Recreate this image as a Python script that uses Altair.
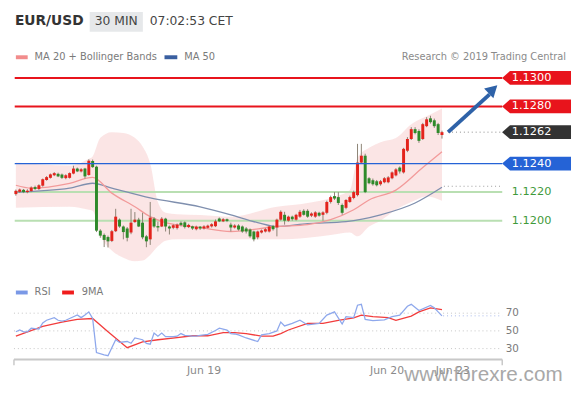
import altair as alt
import pandas as pd

# ---------------- candles (30 min EUR/USD) ----------------
opens = [1.12186, 1.12202, 1.12216, 1.12200, 1.12207, 1.12235, 1.12222, 1.12245, 1.12285, 1.12300,
         1.12318, 1.12328, 1.12323, 1.12298, 1.12300, 1.12330, 1.12365, 1.12345, 1.12365, 1.12320,
         1.12418, 1.12378, 1.11930, 1.11900, 1.11885, 1.11858, 1.11926, 1.12007, 1.11959, 1.11945,
         1.11917, 1.11990, 1.12007, 1.11986, 1.11890, 1.11869, 1.12014, 1.11962, 1.11959, 1.12014,
         1.11959, 1.11950, 1.11948, 1.11985, 1.11988, 1.11955, 1.11960, 1.11940, 1.11958, 1.11945,
         1.11950, 1.11960, 1.11961, 1.12015, 1.11995, 1.12010, 1.11972, 1.11952, 1.11966, 1.11959,
         1.11945, 1.11938, 1.11924, 1.11883, 1.11917, 1.11924, 1.11924, 1.11962, 1.11952, 1.12007,
         1.12041, 1.12000, 1.12028, 1.12007, 1.12028, 1.12069, 1.12069, 1.12035, 1.12028, 1.12055,
         1.12041, 1.12055, 1.12131, 1.12172, 1.12165, 1.12110, 1.12090, 1.12131, 1.12159, 1.12179,
         1.12407, 1.12455, 1.12297, 1.12283, 1.12276, 1.12255, 1.12269, 1.12269, 1.12297, 1.12317,
         1.12372, 1.12338, 1.12490, 1.12572, 1.12641, 1.12628, 1.12572, 1.12662, 1.12717, 1.12703,
         1.12676, 1.12600]
highs = [1.12218, 1.12225, 1.12222, 1.12220, 1.12240, 1.12245, 1.12255, 1.12295, 1.12312, 1.12330,
         1.12340, 1.12336, 1.12330, 1.12325, 1.12338, 1.12385, 1.12372, 1.12368, 1.12370, 1.12430,
         1.12428, 1.12385, 1.11940, 1.11910, 1.11895, 1.11935, 1.12083, 1.12015, 1.11966, 1.11955,
         1.12083, 1.12060, 1.12020, 1.12055, 1.11900, 1.12131, 1.12025, 1.11993, 1.12025, 1.12020,
         1.11966, 1.11975, 1.11980, 1.11995, 1.11995, 1.11978, 1.11965, 1.11965, 1.11962, 1.11968,
         1.11972, 1.11982, 1.12008, 1.12022, 1.12018, 1.12015, 1.11986, 1.11975, 1.11975, 1.11966,
         1.11955, 1.11945, 1.11930, 1.11930, 1.11938, 1.11948, 1.11966, 1.11970, 1.12014, 1.12072,
         1.12062, 1.12035, 1.12035, 1.12048, 1.12075, 1.12080, 1.12080, 1.12058, 1.12066, 1.12062,
         1.12066, 1.12140, 1.12175, 1.12200, 1.12200, 1.12120, 1.12150, 1.12175, 1.12210, 1.12538,
         1.12538, 1.12469, 1.12305, 1.12295, 1.12285, 1.12285, 1.12305, 1.12312, 1.12345, 1.12368,
         1.12380, 1.12510, 1.12585, 1.12655, 1.12655, 1.12640, 1.12685, 1.12725, 1.12735, 1.12715,
         1.12685, 1.12630]
lows = [1.12175, 1.12195, 1.12193, 1.12192, 1.12200, 1.12215, 1.12215, 1.12238, 1.12280, 1.12295,
        1.12312, 1.12305, 1.12292, 1.12290, 1.12295, 1.12325, 1.12340, 1.12338, 1.12295, 1.12315,
        1.12370, 1.11920, 1.11880, 1.11815, 1.11812, 1.11850, 1.11920, 1.11950, 1.11869, 1.11855,
        1.11905, 1.11985, 1.11955, 1.11870, 1.11814, 1.11830, 1.11950, 1.11924, 1.11955, 1.11924,
        1.11903, 1.11940, 1.11938, 1.11960, 1.11945, 1.11948, 1.11935, 1.11932, 1.11935, 1.11938,
        1.11945, 1.11952, 1.11955, 1.11990, 1.11990, 1.11990, 1.11924, 1.11945, 1.11930, 1.11915,
        1.11910, 1.11880, 1.11855, 1.11869, 1.11910, 1.11917, 1.11917, 1.11930, 1.11890, 1.12000,
        1.11972, 1.11993, 1.12000, 1.12000, 1.12020, 1.12035, 1.12020, 1.12025, 1.12020, 1.12028,
        1.12000, 1.12045, 1.12120, 1.12145, 1.12110, 1.12041, 1.12080, 1.12125, 1.12150, 1.12170,
        1.12400, 1.12193, 1.12255, 1.12245, 1.12240, 1.12245, 1.12262, 1.12262, 1.12290, 1.12310,
        1.12330, 1.12330, 1.12480, 1.12565, 1.12605, 1.12545, 1.12565, 1.12655, 1.12680, 1.12650,
        1.12600, 1.12575]
closes = [1.12209, 1.12218, 1.12200, 1.12210, 1.12232, 1.12222, 1.12248, 1.12290, 1.12305, 1.12324,
          1.12333, 1.12310, 1.12300, 1.12318, 1.12333, 1.12365, 1.12345, 1.12360, 1.12310, 1.12420,
          1.12375, 1.11930, 1.11895, 1.11865, 1.11855, 1.11926, 1.12028, 1.11959, 1.11920, 1.11880,
          1.11986, 1.12007, 1.11959, 1.11883, 1.11855, 1.12021, 1.11959, 1.11952, 1.12014, 1.11959,
          1.11945, 1.11968, 1.11972, 1.11970, 1.11955, 1.11970, 1.11945, 1.11958, 1.11945, 1.11960,
          1.11965, 1.11975, 1.11995, 1.11995, 1.12010, 1.11998, 1.11952, 1.11966, 1.11938, 1.11924,
          1.11924, 1.11890, 1.11869, 1.11924, 1.11931, 1.11940, 1.11959, 1.11940, 1.12007, 1.12062,
          1.12000, 1.12028, 1.12010, 1.12041, 1.12062, 1.12041, 1.12028, 1.12050, 1.12058, 1.12035,
          1.12058, 1.12131, 1.12165, 1.12155, 1.12124, 1.12055, 1.12145, 1.12165, 1.12200, 1.12407,
          1.12455, 1.12200, 1.12262, 1.12255, 1.12248, 1.12276, 1.12297, 1.12303, 1.12338, 1.12359,
          1.12345, 1.12503, 1.12572, 1.12641, 1.12614, 1.12559, 1.12676, 1.12710, 1.12690, 1.12662,
          1.12614, 1.12620]

# ---------------- Bollinger bands / moving averages ----------------
band_idx = [0, 14, 19, 20, 22, 25, 28, 31, 33, 35, 37, 39, 42, 48, 56, 68, 76, 82, 87, 89, 92, 95, 99, 103, 107, 111]
band_upper = [1.12407, 1.12386, 1.12434, 1.12450, 1.12580, 1.12620, 1.12615, 1.12580, 1.12520, 1.12400,
              1.12130, 1.12055, 1.12045, 1.12040, 1.12028, 1.12097, 1.12124, 1.12159, 1.12214, 1.12440,
              1.12510, 1.12550, 1.12579, 1.12676, 1.12731, 1.12786]
band_lower = [1.12090, 1.12097, 1.12076, 1.12070, 1.11900, 1.11790, 1.11740, 1.11715, 1.11720, 1.11760,
              1.11820, 1.11860, 1.11870, 1.11870, 1.11869, 1.11869, 1.11880, 1.11900, 1.11917, 1.11890,
              1.11959, 1.12000, 1.12076, 1.12130, 1.12170, 1.12140]
ma20_idx = [0, 4, 14, 20, 25, 31, 35, 39, 48, 56, 68, 76, 82, 88, 92, 99, 106, 111]
ma20_vals = [1.12248, 1.12228, 1.12262, 1.12303, 1.12193, 1.12097, 1.12028, 1.11986, 1.11952, 1.11924,
             1.11959, 1.11972, 1.12007, 1.12076, 1.12145, 1.12214, 1.12372, 1.12483]
ma50_idx = [0, 14, 20, 25, 35, 48, 56, 63, 68, 76, 86, 95, 104, 111]
ma50_vals = [1.12200, 1.12228, 1.12262, 1.12228, 1.12159, 1.12097, 1.12041, 1.11986, 1.11959, 1.11979,
             1.11993, 1.12041, 1.12124, 1.12234]

# ---------------- RSI ----------------
rsi_idx = [0, 1, 2, 3, 4, 6, 7, 8, 10, 11, 12, 13, 15, 16, 17, 18, 19, 20, 21, 23, 24, 26, 27, 29, 30, 31,
           33, 34, 35, 36, 37, 38, 39, 41, 42, 43, 44, 46, 47, 48, 50, 52, 53, 55, 56, 57, 58, 60, 63, 64,
           66, 68, 69, 70, 72, 74, 76, 79, 81, 83, 85, 86, 88, 89, 90, 91, 93, 96, 98, 100, 102, 103, 105,
           108, 109, 110, 111]
rsi_vals = [49, 51, 49, 49, 53, 52, 59, 62, 65, 62, 61, 62, 66, 68, 65, 68, 71.5, 64, 25.5, 23, 22, 40, 37,
            38, 36, 42, 40, 36, 35, 47.5, 44, 47.5, 43.5, 43.5, 44, 47, 45, 44, 44, 45, 46, 50.5, 53, 51,
            47, 46.5, 45.5, 42, 38, 45.5, 47, 50, 60, 55.6, 58.5, 62, 56.7, 58.5, 67.8, 71.5, 57.8, 66, 65,
            79, 80, 63, 61.7, 62.5, 66, 67.8, 77.8, 80, 73, 78.7, 76, 71.5, 67]
rsi_ma_idx = [0, 7, 12, 16, 20, 24, 29, 33, 37, 42, 46, 50, 54, 57, 60, 64, 67, 69, 71, 76, 80, 84, 88, 90,
              93, 97, 99, 103, 105, 108, 111]
rsi_ma_vals = [44, 55, 60, 63, 64, 49, 31, 37.5, 40, 42.5, 44.5, 44.5, 48, 48, 47, 44, 44, 47, 51, 58.5,
               58.5, 62, 64.8, 67.8, 66, 65, 62, 66.7, 71.5, 75.9, 74]

# ---------------- levels / labels ----------------
level_values = [1.1300, 1.1280, 1.1240, 1.1220, 1.1200]
level_kinds = ["res", "res", "piv", "sup", "sup"]
label_values = [1.1300, 1.1280, 1.1262, 1.1240, 1.1220, 1.1200]
label_kinds = ["res", "res", "last", "piv", "sup", "sup"]
last_price = 1.1262
last_ma50 = 1.12241
last_rsi = 67
rsi_levels = [70, 50, 30]
tick_pos = [49, 96.7, 113.8]
tick_labels = ["Jun 19", "Jun 20", "Jun 23"]

# ---------------- geometry / style ----------------
W = 564
H_HEAD, H_PRICE, H_RSI = 54, 205, 90
X0, X1 = -0.256, 144.36
P_LO, P_HI = 1.116621, 1.130759
R_LO, R_HI = 17.78, 117.78
LINE_X0, LINE_X1 = -0.3, 126.7
BOX_X, TEXT_X = 135.64, 129.2
ARROW_X = [112.6, 123.4]
ARROW_Y = [1.12620, 1.12885]
HEAD_X, HEAD_Y = 124.3, 1.12920

UP, DOWN, WICK = "#e3231c", "#2e8a2a", "#8c8374"
RED, BLUE, GREEN_LINE, GREEN_TXT, DARK = "#e8141c", "#2563d6", "#b9dfb2", "#3f9a3a", "#333333"
ARROW = "#2e62a8"
GRAY = "#7a7a7a"

xs = alt.Scale(domain=[X0, X1], nice=False, zero=False, padding=0)
ys = alt.Scale(domain=[P_LO, P_HI], nice=False, zero=False, padding=0)
rs = alt.Scale(domain=[R_LO, R_HI], nice=False, zero=False, padding=0)


def XF(f):
    return alt.X(f, type="quantitative", scale=xs, axis=None)


def XD(d):
    return alt.X(datum=d, type="quantitative", scale=xs, axis=None)


def YF(f, s=ys):
    return alt.Y(f, type="quantitative", scale=s, axis=None)


def YD(d, s=ys):
    return alt.Y(datum=d, type="quantitative", scale=s, axis=None)


one = pd.DataFrame({"a": [0]})

# ---------------- header ----------------
hdr = alt.Chart(one)
header = alt.layer(
    hdr.mark_rect(color="#e6e8ea").encode(x=alt.value(76), x2=alt.value(130), y=alt.value(0), y2=alt.value(20)),
    hdr.mark_text(text="EUR/USD", fontWeight="bold", fontSize=14, align="left", baseline="middle", color="#333")
       .encode(x=alt.value(0), y=alt.value(9)),
    hdr.mark_text(text="30 MIN", fontSize=12.5, align="center", baseline="middle", color="#444")
       .encode(x=alt.value(103), y=alt.value(9)),
    hdr.mark_text(text="07:02:53 CET", fontSize=12.5, align="left", baseline="middle", color="#444")
       .encode(x=alt.value(137), y=alt.value(9)),
    hdr.mark_rect(color="#f28c8c").encode(x=alt.value(1), x2=alt.value(13), y=alt.value(44), y2=alt.value(48)),
    hdr.mark_text(text="MA 20 + Bollinger Bands", fontSize=10, align="left", baseline="middle", color=GRAY)
       .encode(x=alt.value(20), y=alt.value(46)),
    hdr.mark_rect(color="#3a5fa0").encode(x=alt.value(152), x2=alt.value(165), y=alt.value(44), y2=alt.value(48)),
    hdr.mark_text(text="MA 50", fontSize=10, align="left", baseline="middle", color=GRAY)
       .encode(x=alt.value(172), y=alt.value(46)),
    hdr.mark_text(text="Research © 2019 Trading Central", fontSize=10, align="right", baseline="middle", color="#8a8a8a")
       .encode(x=alt.value(560), y=alt.value(46)),
).properties(width=W, height=H_HEAD)

# ---------------- price panel ----------------
cdf = pd.DataFrame({"i": list(range(len(opens))), "o": opens, "h": highs, "l": lows, "c": closes})
bdf = pd.DataFrame({"i": band_idx, "u": band_upper, "lo": band_lower})
m20 = pd.DataFrame({"i": ma20_idx, "v": ma20_vals})
m50 = pd.DataFrame({"i": ma50_idx, "v": ma50_vals})
ldf = pd.DataFrame({"v": level_values, "k": level_kinds})
labdf = pd.DataFrame({"v": label_values, "k": label_kinds})
arr = pd.DataFrame({"x": ARROW_X, "y": ARROW_Y})

band = alt.Chart(bdf).mark_area(color="#f6c2c2", opacity=0.42, interpolate="monotone").encode(
    x=XF("i"), y=YF("u"), y2="lo")
ma50_line = alt.Chart(m50).mark_line(color="#7f8fae", strokeWidth=1.3, interpolate="monotone").encode(
    x=XF("i"), y=YF("v"))
ma20_line = alt.Chart(m20).mark_line(color="#f29a9a", strokeWidth=1.3, interpolate="monotone").encode(
    x=XF("i"), y=YF("v"))


def level_layer(kind, color, width):
    return alt.Chart(ldf).transform_filter(f"datum.k == '{kind}'").mark_rule(
        color=color, strokeWidth=width).encode(x=XD(LINE_X0), x2=alt.datum(LINE_X1), y=YF("v"))


res_lines = level_layer("res", RED, 2)
piv_line = level_layer("piv", BLUE, 1.2)
sup_lines = level_layer("sup", GREEN_LINE, 2)

wicks = alt.Chart(cdf).mark_rule(color=WICK, strokeWidth=1).encode(x=XF("i"), y=YF("l"), y2="h")
bodies = alt.Chart(cdf).mark_bar(size=3).encode(
    x=XF("i"), y=YF("o"), y2="c",
    color=alt.condition("datum.c >= datum.o", alt.value(UP), alt.value(DOWN)))

last_dot = alt.Chart(one).mark_rule(color="#8a8a8a", strokeDash=[1, 3], strokeWidth=1).encode(
    x=XD(ARROW_X[0]), x2=alt.datum(LINE_X1), y=YD(last_price))
ma50_dot = alt.Chart(one).mark_rule(color="#9a9a9a", strokeDash=[1, 3], strokeWidth=1).encode(
    x=XD(111.5), x2=alt.datum(LINE_X1), y=YD(last_ma50))

arrow_line = alt.Chart(arr).mark_line(color=ARROW, strokeWidth=4).encode(x=XF("x"), y=YF("y"))
arrow_head = alt.Chart(one).mark_point(shape="triangle-up", angle=47, filled=True, size=190, opacity=1,
                                       color=ARROW).encode(x=XD(HEAD_X), y=YD(HEAD_Y))

BOX = "M -1 0 L -0.77 -0.2 L 1 -0.2 L 1 0.2 L -0.77 0.2 Z"
boxes = alt.Chart(labdf).transform_filter("datum.k != 'sup'").mark_point(
    shape=BOX, filled=True, size=4900, opacity=1, strokeWidth=0).encode(
    x=XD(BOX_X), y=YF("v"),
    color=alt.Color("k:N", scale=alt.Scale(domain=["res", "last", "piv"], range=[RED, DARK, BLUE]), legend=None))
label_text = alt.Chart(labdf).mark_text(align="left", baseline="middle", fontSize=11.5).encode(
    x=XD(TEXT_X), y=YF("v"), text=alt.Text("v:Q", format=".4f"),
    color=alt.condition("datum.k == 'sup'", alt.value(GREEN_TXT), alt.value("white")))

price = alt.layer(band, sup_lines, ma50_line, ma20_line, wicks, bodies, res_lines, piv_line,
                  last_dot, ma50_dot, arrow_line, arrow_head, boxes, label_text).properties(
    width=W, height=H_PRICE)

# ---------------- RSI panel ----------------
rsi_df = pd.DataFrame({"i": rsi_idx, "v": rsi_vals})
rma_df = pd.DataFrame({"i": rsi_ma_idx, "v": rsi_ma_vals})
rl_df = pd.DataFrame({"r": rsi_levels})
ends = pd.DataFrame({"e": [-0.5, LINE_X1]})
ticks_df = pd.DataFrame({"p": tick_pos, "t": tick_labels})

grid = alt.Chart(rl_df).mark_rule(color="#c4c4c4", strokeDash=[1, 3], strokeWidth=1).encode(
    x=XD(-0.5), x2=alt.datum(126.2), y=YF("r", rs))
grid_lab = alt.Chart(rl_df).mark_text(align="left", baseline="middle", fontSize=10.5, color=GRAY).encode(
    x=XD(127.6), y=YF("r", rs), text="r:Q")
rsi_line = alt.Chart(rsi_df).mark_line(color="#8ea8ec", strokeWidth=1.3).encode(x=XF("i"), y=YF("v", rs))
rma_line = alt.Chart(rma_df).mark_line(color="#f23c3c", strokeWidth=1.3).encode(x=XF("i"), y=YF("v", rs))
rsi_dot = alt.Chart(one).mark_rule(color="#a6b8ea", strokeDash=[1, 3], strokeWidth=1).encode(
    x=XD(111.3), x2=alt.datum(LINE_X1), y=YD(last_rsi, rs))
base_line = alt.Chart(one).mark_rule(color="#c8c8c8", strokeWidth=2).encode(
    x=XD(-0.5), x2=alt.datum(LINE_X1), y=alt.value(H_RSI))
end_ticks = alt.Chart(ends).mark_rule(color="#c8c8c8", strokeWidth=1.5).encode(
    x=XF("e"), y=alt.value(H_RSI), y2=alt.value(H_RSI + 6))
x_labels = alt.Chart(ticks_df).mark_text(align="center", baseline="middle", fontSize=11, color="#8a8a8a").encode(
    x=XF("p"), y=alt.value(H_RSI + 12), text="t:N")

rh = alt.Chart(one)
rsi_legend = [
    rh.mark_rect(color="#7a98e6").encode(x=alt.value(1), x2=alt.value(13), y=alt.value(20), y2=alt.value(24)),
    rh.mark_text(text="RSI", fontSize=10, align="left", baseline="middle", color=GRAY)
      .encode(x=alt.value(20), y=alt.value(22)),
    rh.mark_rect(color="#f01c1c").encode(x=alt.value(48), x2=alt.value(60), y=alt.value(20), y2=alt.value(24)),
    rh.mark_text(text="9MA", fontSize=10, align="left", baseline="middle", color=GRAY)
      .encode(x=alt.value(68), y=alt.value(22)),
    rh.mark_text(text="www.forexre.com", font="Liberation Sans", fontSize=21, align="center",
                 baseline="middle", color="#999999", opacity=0.85).encode(x=alt.value(476), y=alt.value(106)),
]

rsi_panel = alt.layer(grid, grid_lab, base_line, end_ticks, rsi_dot, rma_line, rsi_line, x_labels,
                      *rsi_legend).properties(width=W, height=H_RSI)

chart = alt.vconcat(header, price, rsi_panel, spacing=0).properties(
    padding={"left": 4, "top": 0, "right": 0, "bottom": 0}
).configure(font="DejaVu Sans", background="white").configure_view(stroke="transparent")

chart.save("out.html", embed_options={"renderer": "svg", "actions": False})
